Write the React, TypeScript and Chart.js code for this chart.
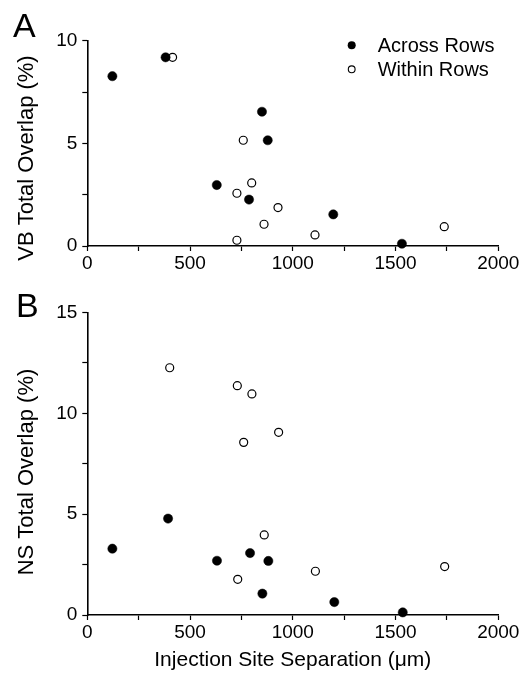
import React, { useEffect, useRef } from "react";
import { Chart, registerables } from "chart.js";

Chart.register(...registerables);

// ---- data ----
const seriesNames = ["Across Rows", "Within Rows"];

const vbAcrossX = [122, 381, 630, 787, 850, 878, 1197, 1531];
const vbAcrossY = [8.27, 9.19, 2.97, 2.26, 6.54, 5.15, 1.54, 0.11];
const vbWithinX = [415, 759, 800, 728, 928, 860, 728, 1108, 1737];
const vbWithinY = [9.19, 5.15, 3.07, 2.57, 1.87, 1.06, 0.28, 0.54, 0.94];

const nsAcrossX = [122, 393, 631, 792, 881, 852, 1202, 1535];
const nsAcrossY = [3.29, 4.78, 2.69, 3.07, 2.68, 1.06, 0.64, 0.13];
const nsWithinX = [401, 730, 801, 761, 931, 861, 732, 1110, 1739];
const nsWithinY = [12.26, 11.37, 10.96, 8.56, 9.06, 3.97, 1.77, 2.17, 2.4];

const xTickLabels = [0, 500, 1000, 1500, 2000];
const vbTickLabels = [0, 5, 10];
const nsTickLabels = [0, 5, 10, 15];

const FONT = "'Liberation Sans', Arial, Helvetica, sans-serif";

function pts(xs: number[], ys: number[]) {
  return xs.map((x, i) => ({ x, y: ys[i] }));
}

type PanelOpts = {
  letter: string;
  letterX: number;
  letterY: number;
  yTitle: string;
  yTitleCenter: number;
  yMax: number;
  yLabels: number[];
  across: { x: number; y: number }[];
  within: { x: number; y: number }[];
  padTop: number;
  xAxisHeight: number;
  showXTitle: boolean;
  showLegend: boolean;
};

function makeChart(canvas: HTMLCanvasElement, o: PanelOpts) {
  const decor = {
    id: "decor" + o.letter,
    afterDraw(chart: any) {
      const ctx = chart.ctx as CanvasRenderingContext2D;
      ctx.save();
      ctx.fillStyle = "#000";
      // panel letter
      ctx.font = `34px ${FONT}`;
      ctx.textAlign = "left";
      ctx.textBaseline = "alphabetic";
      ctx.fillText(o.letter, o.letterX, o.letterY);
      // y title
      ctx.save();
      ctx.translate(32.5, o.yTitleCenter);
      ctx.rotate(-Math.PI / 2);
      ctx.font = `22px ${FONT}`;
      ctx.textAlign = "center";
      ctx.textBaseline = "alphabetic";
      ctx.fillText(o.yTitle, 0, 0);
      ctx.restore();
      // legend
      if (o.showLegend) {
        ctx.font = `20px ${FONT}`;
        ctx.textAlign = "left";
        ctx.textBaseline = "alphabetic";
        const rows = [
          { cy: 45.3, base: 51.7, filled: true },
          { cy: 69.3, base: 75.7, filled: false },
        ];
        rows.forEach((r, i) => {
          ctx.beginPath();
          ctx.arc(351.7, r.cy, r.filled ? 4 : 3.4, 0, Math.PI * 2);
          if (r.filled) {
            ctx.fillStyle = "#000";
            ctx.fill();
          } else {
            ctx.fillStyle = "#fff";
            ctx.fill();
            ctx.lineWidth = 1.1;
            ctx.strokeStyle = "#000";
            ctx.stroke();
          }
          ctx.fillStyle = "#000";
          ctx.fillText(seriesNames[i], 377.7, r.base);
        });
      }
      ctx.restore();
    },
  };

  return new Chart(canvas, {
    type: "scatter",
    data: {
      datasets: [
        {
          label: seriesNames[0],
          data: o.across,
          pointStyle: "circle",
          pointRadius: 4.6,
          pointBackgroundColor: "#000",
          pointBorderColor: "#000",
          pointBorderWidth: 0.5,
          clip: false,
        },
        {
          label: seriesNames[1],
          data: o.within,
          pointStyle: "circle",
          pointRadius: 4,
          pointBackgroundColor: "#fff",
          pointBorderColor: "#000",
          pointBorderWidth: 1.2,
          clip: false,
        },
      ],
    },
    options: {
      responsive: false,
      animation: false,
      devicePixelRatio: 1,
      layout: { padding: { top: o.padTop, right: 26.7, left: 0, bottom: 0 } },
      plugins: {
        legend: { display: false },
        tooltip: { enabled: false },
      },
      scales: {
        x: {
          type: "linear",
          min: 0,
          max: 2000,
          border: { display: true, color: "#000", width: 1.6 },
          grid: {
            display: true,
            drawOnChartArea: false,
            drawTicks: true,
            tickLength: 5,
            color: "#000",
            tickWidth: 1.2,
          },
          ticks: {
            stepSize: 250,
            autoSkip: false,
            maxRotation: 0,
            padding: 1,
            color: "#000",
            font: { family: FONT, size: 19 },
            callback: (v: any) => (xTickLabels.includes(Number(v)) ? String(v) : ""),
          },
          title: {
            display: o.showXTitle,
            text: "Injection Site Separation (\u03bcm)",
            color: "#000",
            font: { family: FONT, size: 21 },
            padding: { top: 0, bottom: 6 },
          },
          afterFit: (s: any) => {
            s.height = o.xAxisHeight;
          },
        },
        y: {
          type: "linear",
          min: 0,
          max: o.yMax,
          border: { display: true, color: "#000", width: 1.6 },
          grid: {
            display: true,
            drawOnChartArea: false,
            drawTicks: true,
            tickLength: 5,
            color: "#000",
            tickWidth: 1.2,
          },
          ticks: {
            stepSize: 2.5,
            autoSkip: false,
            padding: 5,
            color: "#000",
            font: { family: FONT, size: 19 },
            callback: (v: any) => (o.yLabels.includes(Number(v)) ? String(v) : ""),
          },
          title: { display: false },
          afterFit: (s: any) => {
            s.width = 87.3;
          },
        },
      },
    },
    plugins: [decor],
  } as any);
}

export default function App() {
  const refA = useRef<HTMLCanvasElement>(null);
  const refB = useRef<HTMLCanvasElement>(null);

  useEffect(() => {
    const a = makeChart(refA.current!, {
      letter: "A",
      letterX: 13,
      letterY: 37,
      yTitle: "VB Total Overlap (%)",
      yTitleCenter: 158,
      yMax: 10,
      yLabels: vbTickLabels,
      across: pts(vbAcrossX, vbAcrossY),
      within: pts(vbWithinX, vbWithinY),
      padTop: 40.7,
      xAxisHeight: 34,
      showXTitle: false,
      showLegend: true,
    });
    const b = makeChart(refB.current!, {
      letter: "B",
      letterX: 16,
      letterY: 37,
      yTitle: "NS Total Overlap (%)",
      yTitleCenter: 192,
      yMax: 15,
      yLabels: nsTickLabels,
      across: pts(nsAcrossX, nsAcrossY),
      within: pts(nsWithinX, nsWithinY),
      padTop: 32.5,
      xAxisHeight: 64,
      showXTitle: true,
      showLegend: false,
    });
    return () => {
      a.destroy();
      b.destroy();
    };
  }, []);

  return (
    <div
      style={{
        position: "absolute",
        left: 0,
        top: 0,
        width: 525,
        height: 679,
        background: "#fff",
        overflow: "hidden",
      }}
    >
      <canvas
        ref={refA}
        width={525}
        height={280}
        style={{ position: "absolute", left: 0, top: 0, width: 525, height: 280, display: "block" }}
      />
      <canvas
        ref={refB}
        width={525}
        height={399}
        style={{ position: "absolute", left: 0, top: 280, width: 525, height: 399, display: "block" }}
      />
    </div>
  );
}
